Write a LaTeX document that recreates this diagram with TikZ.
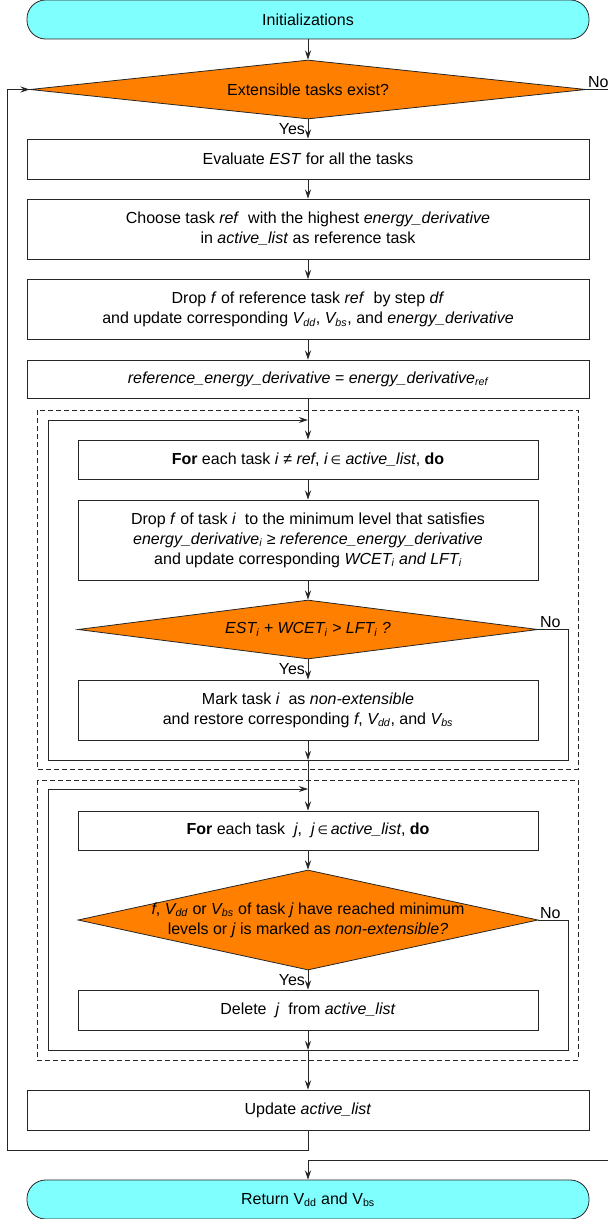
\documentclass[tikz,border=0pt]{standalone}
\usepackage{fontspec}
\setmainfont{Liberation Sans}
\newfontfamily\symfont{DejaVu Sans}[Scale=0.75]
\usetikzlibrary{arrows.meta}
\usetikzlibrary{shapes.geometric}
\definecolor{termcyan}{RGB}{128,255,255}
\definecolor{testorange}{RGB}{255,128,0}
\newcommand{\lowi}[1]{\textsubscript{#1}}

\begin{document}
\begin{tikzpicture}[x=0.75pt,y=-0.75pt,
	>={Stealth[length=7pt,width=4.6pt,inset=2.6pt]},
	line width=0.6pt,draw=black!85,
	every node/.style={font=\fontsize{12}{15}\selectfont,align=center},
	term/.style={rectangle,rounded corners=14pt,draw=black!85,fill=termcyan,minimum width=421.5pt,minimum height=29.25pt},
	bigbox/.style={rectangle,draw=black!85,minimum width=421.5pt,inner sep=0pt},
	innerbox/.style={rectangle,draw=black!85,minimum width=345pt,inner sep=0pt},
	test/.style={diamond,draw=black!85,fill=testorange,inner sep=0pt},
	yes/.style={left,inner sep=2pt},
	no/.style={above right,inner sep=1pt},
	dashbox/.style={dash pattern=on 3.5pt off 2.5pt,line width=0.5pt}]
	\useasboundingbox (0,0) rectangle (608,1219);
	% boxes
	\node[term] (init) at (308,19.5) {Initializations};
	\node[test,minimum width=417pt,minimum height=44.25pt,aspect=9.4] (ext) at (308,89.5) {Extensible tasks exist?};
	\node[bigbox,minimum height=30pt] (est) at (308,159) {Evaluate \textit{EST} for all the tasks};
	\node[bigbox,minimum height=45pt] (choose) at (308,229) {Choose task \textit{ref}\ \ with the highest \textit{energy\_derivative}\\in \textit{active\_list} as reference task};
	\node[bigbox,minimum height=45pt] (dropref) at (308,309.5) {Drop \textit{f} of reference task \textit{ref}\ \ by step \textit{df}\\and update corresponding \textit{V\lowi{dd}}, \textit{V\lowi{bs}}, and \textit{energy\_derivative}};
	\node[bigbox,minimum height=28.5pt] (refder) at (308,379) {\textit{reference\_energy\_derivative} = \textit{energy\_derivative\lowi{ref}}};
	% first loop
	\node[innerbox,minimum height=29.25pt] (fori) at (308,459.5) {\textbf{For} each task \textit{i} ≠ \textit{ref}, \textit{i}\,{\symfont ∈}\ \textit{active\_list}, \textbf{do}};
	\node[innerbox,minimum height=60pt] (dropi) at (308,540) {Drop \textit{f} of task \textit{i}\ \ to the minimum level that satisfies\\\textit{energy\_derivative\lowi{i}} ≥ \textit{reference\_energy\_derivative}\\and update corresponding \textit{WCET\lowi{i} and LFT\lowi{i}}};
	\node[test,minimum width=345pt,minimum height=44.25pt,aspect=7.8] (chk) at (308,629.5) {\textit{EST\lowi{i} + WCET\lowi{i} > LFT\lowi{i} ?}};
	\node[innerbox,minimum height=45pt] (mark) at (308,710) {Mark task \textit{i}\ \ as \textit{non-extensible}\\and restore corresponding \textit{f}, \textit{V\lowi{dd}}, and \textit{V\lowi{bs}}};
	% second loop
	\node[innerbox,minimum height=29.25pt] (forj) at (308,830.5) {\textbf{For} each task\ \ \textit{j},\ \ \textit{j}\,{\symfont ∈}\,\textit{active\_list}, \textbf{do}};
	\node[test,minimum width=345pt,minimum height=75pt,
		label={[name=chkjtext,align=center]center:\textit{f}, \textit{V\lowi{dd}} or \textit{V\lowi{bs}} of task \textit{j} have reached minimum\\levels or \textit{j} is marked as \textit{non-extensible?}}] (chkj) at (308,920) {};
	\node[innerbox,minimum height=30pt] (del) at (308,1010) {Delete\ \ \textit{j}\ \ from \textit{active\_list}};
	\node[bigbox,minimum height=30pt] (upd) at (308,1110) {Update \textit{active\_list}};
	\node[term] (ret) at (308,1199.5) {Return V\lowi{dd} and V\lowi{bs}};
	% loop frames
	\draw[dashbox] (37,410) rectangle (578,769);
	\draw[dashbox] (37,780) rectangle (578,1060);
	\coordinate (topi) at (308,420);
	\coordinate (endi) at (308,760);
	\coordinate (iright) at (568,760);
	\coordinate (ileft) at (48,760);
	\coordinate (topj) at (308,789);
	\coordinate (endj) at (308,1050);
	\coordinate (jright) at (568,1050);
	\coordinate (jleft) at (48,1050);
	\coordinate (farleft) at (7,1150);
	\coordinate (noout) at (608,89.5);
	\coordinate (noin) at (608,1160);
	% arrows
	\draw[->] (init) -- (ext);
	\draw[->] (ext) -- node[yes]{Yes} (est);
	\draw (ext.east) node[no]{No} -- (noout);
	\draw[->] (est) -- (choose);
	\draw[->] (choose) -- (dropref);
	\draw[->] (dropref) -- (refder);
	\draw[->] (refder) -- (fori);
	\draw[->] (fori) -- (dropi);
	\draw[->] (dropi) -- (chk);
	\draw[->] (chk) -- node[yes]{Yes} (mark);
	\draw[->] (mark) -- (endi);
	\draw[->] (chk.east) node[no]{No} -| (iright) -- (ileft) |- (topi);
	\draw[->] (endi) -- (forj);
	\draw[->] (forj) -- (chkj);
	\draw[->] (chkj) -- node[yes]{Yes} (del);
	\draw[->] (del) -- (endj);
	\draw[->] (chkj.east) node[no]{No} -| (jright) -- (jleft) |- (topj);
	\draw[->] (endj) -- (upd);
	\draw[->] (upd.south) |- (farleft) |- (ext.west);
	\draw[->] (noin) -| (ret.north);
\end{tikzpicture}
\end{document}
